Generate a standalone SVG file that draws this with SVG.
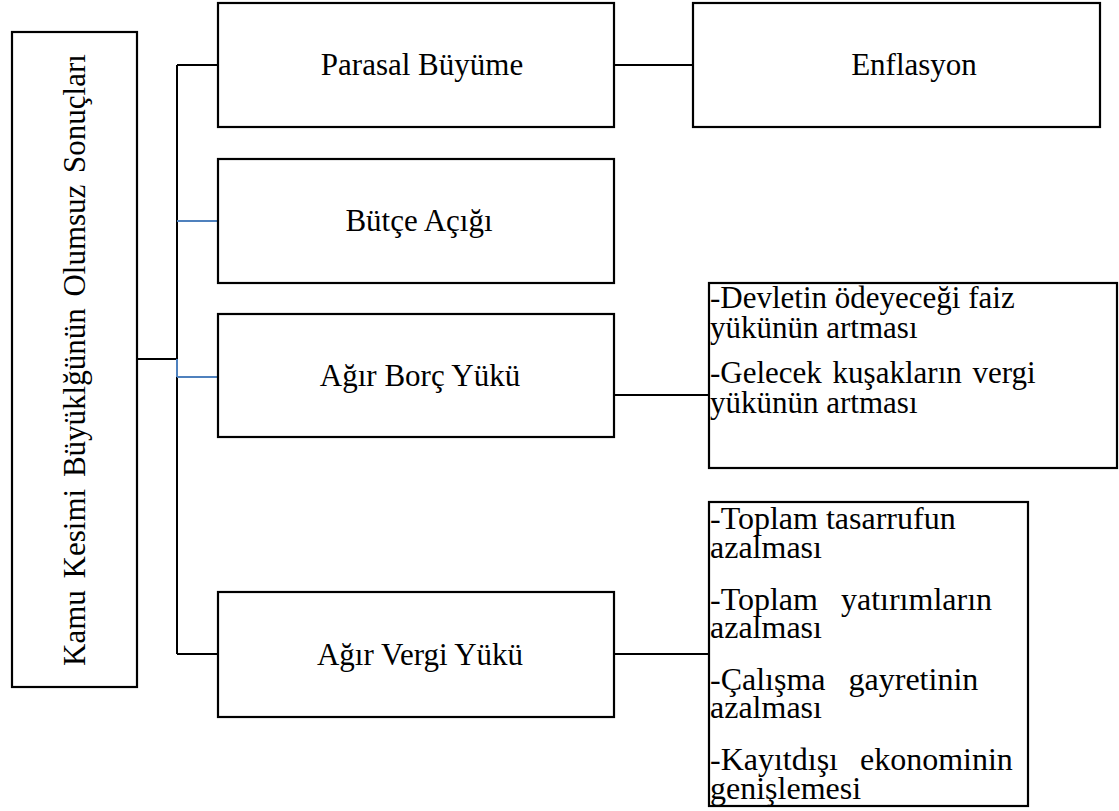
<svg xmlns="http://www.w3.org/2000/svg" width="1119" height="811" viewBox="0 0 1119 811">
<style>
.box{fill:#ffffff;stroke:#000000;stroke-width:2.2}
.t{font-family:"Liberation Serif","Times New Roman",serif;font-size:31px;fill:#000000}
.v{font-size:32px}
.c{text-anchor:middle}
.k{fill:none;stroke:#000000;stroke-width:2}
.b{fill:none;stroke:#4F81BD;stroke-width:2}
</style>
<rect x="0" y="0" width="1119" height="811" fill="#ffffff"/>
<g id="connectors">
<path class="k" d="M137,359 H177 M177,65 V359 M177,377 V654 M177,65 H217 M177,654 H217 M614,65 H692 M614,395 H709 M614,654 H709"/>
<path class="b" d="M177,359 V377 M177,221 H217 M177,377 H217"/>
</g>
<g id="root">
<rect class="box" x="12" y="32" width="125" height="655"/>
<text class="t c" transform="translate(85,360) rotate(-90)" word-spacing="4">Kamu Kesimi Büyüklğünün Olumsuz Sonuçları</text>
</g>
<g id="parasal">
<rect class="box" x="218" y="3" width="396" height="124"/>
<text class="t c" x="422" y="75">Parasal Büyüme</text>
</g>
<g id="enflasyon">
<rect class="box" x="693" y="3" width="407" height="124"/>
<text class="t c" x="914" y="75">Enflasyon</text>
</g>
<g id="butce">
<rect class="box" x="218" y="159" width="396" height="124"/>
<text class="t c" x="419" y="231">Bütçe Açığı</text>
</g>
<g id="borc">
<rect class="box" x="218" y="314" width="396" height="123"/>
<text class="t c" x="420" y="386">Ağır Borç Yükü</text>
</g>
<g id="vergi">
<rect class="box" x="218" y="592" width="396" height="125"/>
<text class="t c" x="420" y="665">Ağır Vergi Yükü</text>
</g>
<g id="borc-sonuc">
<rect class="box" x="709" y="283" width="408" height="185"/>
<text class="t"><tspan x="710" y="308">-Devletin ödeyeceği faiz</tspan><tspan x="710" y="338">yükünün artması</tspan></text>
<text class="t"><tspan x="710" y="383" word-spacing="3">-Gelecek kuşakların vergi</tspan><tspan x="710" y="413">yükünün artması</tspan></text>
</g>
<g id="vergi-sonuc">
<rect class="box" x="709" y="502" width="319" height="304"/>
<text class="t v"><tspan x="710" y="529">-Toplam tasarrufun</tspan><tspan x="710" y="558">azalması</tspan></text>
<text class="t v"><tspan x="710" y="610" word-spacing="15">-Toplam yatırımların</tspan><tspan x="710" y="638">azalması</tspan></text>
<text class="t v"><tspan x="710" y="690" word-spacing="15">-Çalışma gayretinin</tspan><tspan x="710" y="718">azalması</tspan></text>
<text class="t v"><tspan x="710" y="770" word-spacing="14">-Kayıtdışı ekonominin</tspan><tspan x="710" y="799">genişlemesi</tspan></text>
</g>
</svg>
